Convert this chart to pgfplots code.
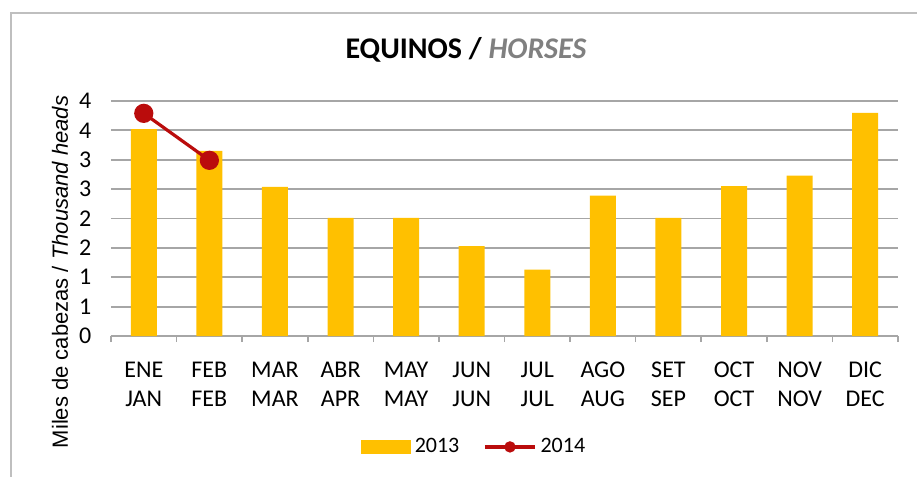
\documentclass[border=0pt]{standalone}
\usepackage{pgfplots}
\pgfplotsset{compat=1.18}
\usepackage{fontspec}
\setmainfont{Carlito}
\newfontfamily\arialfont{Liberation Sans}
\definecolor{bargold}{HTML}{FFC000}
\definecolor{linered}{HTML}{BA0C0C}
\definecolor{gridgray}{HTML}{A6A6A6}
\definecolor{framegray}{HTML}{BFBFBF}
\definecolor{titlegray}{HTML}{808080}
% 1 px of the reference = 0.5pt; y measured from the bottom: 477 - y_px
\begin{document}
\begin{tikzpicture}
\useasboundingbox (0pt,0pt) rectangle (458.5pt,238.5pt);
% outer frame (runs past the right and bottom edge)
\draw[framegray,line width=0.9pt] (5.5pt,-2pt) -- (5.5pt,232pt) -- (460pt,232pt);
\node[font=\fontsize{15}{18}\selectfont\bfseries] at (233pt,213.5pt)
  {EQUINOS / \textcolor{titlegray}{\itshape HORSES}};
\node[rotate=90,font=\arialfont\fontsize{11}{13}\selectfont] at (30pt,102.5pt)
  {Miles de cabezas / \textit{Thousand heads}};
\begin{axis}[
  at={(55.5pt,70.5pt)}, anchor=south west,
  scale only axis, width=393.5pt, height=117.5pt,
  xmin=-0.5, xmax=11.5, ymin=0, ymax=4,
  ytick={0,0.5,...,4},
  yticklabels={0,1,1,2,2,3,3,4,4},
  xtick={0,...,11},
  xticklabels={ENE\\JAN,FEB\\FEB,MAR\\MAR,ABR\\APR,MAY\\MAY,JUN\\JUN,JUL\\JUL,AGO\\AUG,SET\\SEP,OCT\\OCT,NOV\\NOV,DIC\\DEC},
  xticklabel style={align=center,font=\fontsize{12}{14.5}\selectfont},
  yticklabel style={font=\fontsize{12}{14}\selectfont},
  /pgf/number format/assume math mode=true,
  minor xtick={-0.5,0.5,...,11.5},
  major x tick style={draw=none},
  minor x tick style={gridgray,line width=0.8pt},
  minor tick length=3pt,
  tick align=outside,
  ytick style={draw=none},
  axis x line*=bottom,
  axis y line*=left,
  y axis line style={draw=none},
  x axis line style={gridgray,line width=0.9pt,-},
  ymajorgrids,
  grid style={gridgray,line width=0.9pt},
  xticklabel shift=5pt,
  yticklabel shift=2pt,
  legend columns=2,
  legend style={draw=none,at={(0.4625,-0.472)},anchor=center,
    font=\fontsize{11}{13}\selectfont,/tikz/every even column/.append style={column sep=10pt}},
  clip=false,
]
\addplot[ybar,bar width=13pt,fill=bargold,draw=none,
  legend image code/.code={\fill[bargold] (0pt,-3.5pt) rectangle (25pt,3.5pt);}]
  coordinates {(0,3.52) (1,3.15) (2,2.54) (3,2.01) (4,2.01) (5,1.53)
               (6,1.13) (7,2.39) (8,2.01) (9,2.55) (10,2.73) (11,3.80)};
\addlegendentry{2013}
\addplot[linered,line width=1.6pt,mark=*,mark size=4pt,
  mark options={fill=linered,draw=linered},
  legend image code/.code={
    \draw[linered,line width=1.6pt] (0pt,0pt) -- (25pt,0pt);
    \fill[linered] (12.5pt,0pt) circle (2pt);}]
  coordinates {(0,3.79) (1,2.99)};
\addlegendentry{2014}
\end{axis}
\end{tikzpicture}
\end{document}
